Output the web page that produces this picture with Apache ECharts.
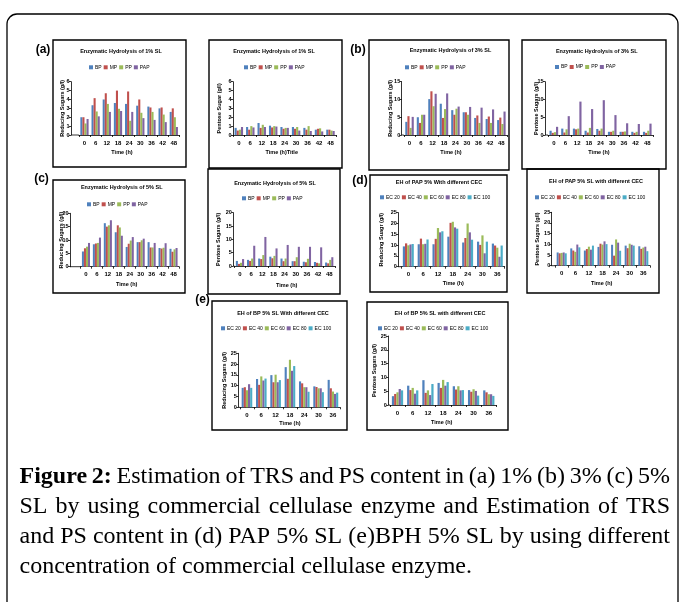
<!DOCTYPE html>
<html><head><meta charset="utf-8">
<script src="https://cdn.jsdelivr.net/npm/echarts@6/dist/echarts.min.js"></script>
<style>html,body{margin:0;padding:0;background:#fff}#c{width:680px;height:602px}</style>
</head><body><div id="c"></div><script>
// ---------- categories / series names ----------
const hoursA = ['0','6','12','18','24','30','36','42','48'];
const hoursD = ['0','6','12','18','24','30','36'];
const seriesSubstrate = ['BP','MP','PP','PAP'];
const seriesEnzyme = ['EC 20','EC 40','EC 60','EC 80','EC 100'];

// ---------- (a) 1% SL ----------
const a1_BP  = [2.0,3.35,4.0,3.6,3.5,3.3,3.2,3.0,2.6];
const a1_MP  = [2.0,4.15,4.7,5.0,4.9,4.0,3.1,3.1,3.0];
const a1_PP  = [1.3,2.65,3.5,2.95,1.6,2.5,2.6,2.3,2.0];
const a1_PAP = [1.8,2.1,2.6,2.7,2.6,1.9,1.7,1.45,0.9];
const a2_BP  = [0.8,0.9,1.35,1.05,0.9,0.9,0.8,0.6,0.6];
const a2_MP  = [0.5,0.6,0.8,0.85,0.7,0.7,0.6,0.7,0.6];
const a2_PP  = [0.6,1.0,1.15,1.0,0.8,0.9,1.0,0.75,0.5];
const a2_PAP = [0.9,0.85,0.9,0.95,0.8,0.5,0.45,0.4,0.45];
// ---------- (b) 3% SL ----------
const b1_BP  = [3.7,5.0,10.1,8.8,7.0,6.4,4.8,4.5,4.2];
const b1_MP  = [5.3,3.4,12.3,4.8,5.7,6.4,5.5,5.2,4.9];
const b1_PP  = [2.0,5.7,8.1,7.3,7.4,5.7,3.4,3.4,3.1];
const b1_PAP = [5.1,5.7,11.6,11.7,8.0,7.9,7.7,7.2,6.6];
const b2_BP  = [1.2,1.8,1.8,1.2,1.7,0.9,0.9,0.9,0.9];
const b2_MP  = [0.6,0.7,1.6,0.7,1.2,0.9,0.9,0.6,0.6];
const b2_PP  = [0.8,1.6,1.8,2.0,1.8,1.2,1.0,0.9,1.2];
const b2_PAP = [2.3,5.3,9.4,7.3,9.8,5.6,3.3,3.1,3.2];
// ---------- (c) 5% SL ----------
const c1_BP  = [5.7,8.4,16.3,12.9,7.4,9.2,9.2,7.0,6.7];
const c1_MP  = [6.9,8.7,15.0,15.5,8.6,9.2,7.2,6.8,5.6];
const c1_PP  = [7.5,8.9,15.5,14.7,9.8,9.9,7.2,7.1,6.5];
const c1_PAP = [8.9,10.9,17.4,11.6,11.1,10.5,8.9,8.8,7.0];
const c2_BP  = [1.9,2.3,2.8,3.5,2.8,1.8,1.6,1.5,1.3];
const c2_MP  = [0.8,1.9,2.6,2.9,1.8,1.8,1.4,1.2,1.0];
const c2_PP  = [1.2,2.8,4.1,3.8,2.8,3.3,2.7,1.0,2.3];
const c2_PAP = [2.6,7.6,10.9,6.6,7.9,7.2,7.2,7.0,3.3];
// ---------- (d) PAP 5% SL, different CEC ----------
const d1_EC20  = [9.4,10.4,10.4,13.9,11.2,11.6,10.7];
const d1_EC40  = [10.8,13.0,12.9,20.3,13.3,10.1,9.8];
const d1_EC60  = [9.9,10.4,17.9,20.8,20.0,14.5,8.8];
const d1_EC80  = [10.3,10.6,15.9,18.2,15.9,6.2,4.6];
const d1_EC100 = [10.5,12.6,16.4,17.6,12.5,11.6,9.8];
const d2_EC20  = [6.2,8.1,7.1,8.8,9.8,9.4,9.1];
const d2_EC40  = [5.8,7.1,7.8,10.3,4.7,8.2,7.9];
const d2_EC60  = [6.0,6.5,8.9,9.9,12.3,10.3,8.5];
const d2_EC80  = [6.2,9.9,7.5,11.4,10.8,9.8,8.9];
const d2_EC100 = [5.8,8.6,9.4,10.1,7.0,9.4,6.8];
// ---------- (e) BP 5% SL, different CEC ----------
const e1_EC20  = [9.0,13.1,14.9,18.6,12.0,9.7,12.7];
const e1_EC40  = [9.3,10.4,11.6,13.2,11.1,9.4,8.8];
const e1_EC60  = [7.9,14.3,15.1,22.0,9.3,8.8,7.3];
const e1_EC80  = [10.7,12.4,11.6,16.9,9.3,8.8,6.2];
const e1_EC100 = [9.0,13.3,12.6,19.1,7.2,7.0,6.8];
const e2_EC20  = [3.2,7.0,9.0,8.0,6.8,5.4,5.3];
const e2_EC40  = [4.0,5.4,4.4,6.2,5.6,4.8,4.6];
const e2_EC60  = [4.6,6.2,5.3,9.1,6.8,5.7,3.9];
const e2_EC80  = [5.8,4.1,3.6,7.0,5.3,5.1,3.9];
const e2_EC100 = [5.3,5.3,7.6,8.3,5.4,3.4,3.3];

// ---------- text ----------
const captionLines = [
  'Figure 2: Estimation of TRS and PS content in (a) 1% (b) 3% (c) 5%',
  'SL by using commercial cellulase enzyme and Estimation of TRS',
  'and PS content in (d) PAP 5% SL (e)BPH 5% SL by using different',
  'concentration of commercial cellulase enzyme.'
];

// ---------- layout ----------
const colorsSub = ['#4F81BD','#C0504D','#9BBB59','#8064A2'];
const colorsEC  = ['#4F81BD','#C0504D','#9BBB59','#8064A2','#4BACC6'];
const SANS = '"Liberation Sans", Arial, sans-serif';

const panels = [
 {cats:hoursA, names:seriesSubstrate, colors:colorsSub, data:[a1_BP,a1_MP,a1_PP,a1_PAP], max:6, interval:1,
  title:'Enzymatic Hydrolysis of 1% SL', yName:'Reducing Sugars (g/l)', xName:'Time (h)',
  grid:[78.9,81.7,100.5,53.3], axisX:71, yNameX:62.5, titleXY:[121,51], legendXY:[89,64.8], xNameXY:[122,152.3]},
 {cats:hoursA, names:seriesSubstrate, colors:colorsSub, data:[a2_BP,a2_MP,a2_PP,a2_PAP], max:6, interval:1,
  title:'Enzymatic Hydrolysis of 1% SL', yName:'Pentose Sugar (g/l)', xName:'Time (h)Title',
  grid:[233.1,81.7,103.1,53.3], axisX:233, yNameX:219, titleXY:[274,51], legendXY:[244,64.8], xNameXY:[281.7,152]},
 {cats:hoursA, names:seriesSubstrate, colors:colorsSub, data:[b1_BP,b1_MP,b1_PP,b1_PAP], max:15, interval:5,
  title:'Enzymatic Hydrolysis of 3% SL', yName:'Reducing Sugars (g/l)', xName:'Time (h)',
  grid:[403.8,81.7,103.3,53.3], axisX:401.7, yNameX:390.5, titleXY:[450.5,50.7], legendXY:[405,64.8], xNameXY:[451,152.7]},
 {cats:hoursA, names:seriesSubstrate, colors:colorsSub, data:[b2_BP,b2_MP,b2_PP,b2_PAP], max:15, interval:5,
  title:'Enzymatic Hydrolysis of 3% SL', yName:'Pentose Sugars (g/l)', xName:'Time (h)',
  grid:[548,81.7,105.1,53.3], axisX:545, yNameX:536.5, titleXY:[596.7,51], legendXY:[555,64.5], xNameXY:[599,152.7]},
 {cats:hoursA, names:seriesSubstrate, colors:colorsSub, data:[c1_BP,c1_MP,c1_PP,c1_PAP], max:20, interval:5,
  title:'Enzymatic Hydrolysis of 5% SL', yName:'Reducing Sugars (g/l)', xName:'Time (h)',
  grid:[80.5,213.3,98.5,53.4], axisX:70, yNameX:61.5, titleXY:[121.7,187.7], legendXY:[87,201.8], xNameXY:[126.7,284]},
 {cats:hoursA, names:seriesSubstrate, colors:colorsSub, data:[c2_BP,c2_MP,c2_PP,c2_PAP], max:20, interval:5,
  title:'Enzymatic Hydrolysis of 5% SL', yName:'Pentose Sugars (g/l)', xName:'Time (h)',
  grid:[234.4,212.7,100.4,53.3], axisX:233.3, yNameX:218, titleXY:[275,183.3], legendXY:[242,195.8], xNameXY:[286.7,285]},
 {cats:hoursD, names:seriesEnzyme, colors:colorsEC, data:[d1_EC20,d1_EC40,d1_EC60,d1_EC80,d1_EC100], max:25, interval:5,
  title:'EH of PAP 5% With different CEC', yName:'Reducing Suagr (g/l)', xName:'Time (h)',
  grid:[400.9,212.7,103.8,54], axisX:398.3, yNameX:381, titleXY:[439,182.5], legendXY:[380,194.8], xNameXY:[453.3,283.3]},
 {cats:hoursD, names:seriesEnzyme, colors:colorsEC, data:[d2_EC20,d2_EC40,d2_EC60,d2_EC80,d2_EC100], max:25, interval:5,
  title:'EH of PAP 5% SL with different CEC', yName:'Pentose Sugars (g/l)', xName:'Time (h)',
  grid:[554.9,212.3,95.2,53.4], axisX:551.7, yNameX:537, titleXY:[596,181.7], legendXY:[535,194.8], xNameXY:[601.7,283.3]},
 {cats:hoursD, names:seriesEnzyme, colors:colorsEC, data:[e1_EC20,e1_EC40,e1_EC60,e1_EC80,e1_EC100], max:25, interval:5,
  title:'EH of BP 5% SL With different CEC', yName:'Reducing Sugars (g/l)', xName:'Time (h)',
  grid:[239.8,353.3,100.3,54], axisX:238.3, yNameX:224.5, titleXY:[283,313.3], legendXY:[221,325.8], xNameXY:[290,423.3]},
 {cats:hoursD, names:seriesEnzyme, colors:colorsEC, data:[e2_EC20,e2_EC40,e2_EC60,e2_EC80,e2_EC100], max:25, interval:5,
  title:'EH of BP 5% SL with different CEC', yName:'Pentose Sugars (g/l)', xName:'Time (h)',
  grid:[389.9,336,106.5,69], axisX:388.3, yNameX:374.5, titleXY:[440,313.3], legendXY:[378,325.8], xNameXY:[441.7,422.3]}
];

const frames = [
  [53,40,133,127],[209,40,133,128],[369,40,140,130],[522,40,144,129],
  [53,180,132,113],[208,169,132,125],[370,175,137,117],[527,169,132,124],
  [212,301,135,129],[367,302,141,128]
];
const panelLabels = [['(a)',43,50],['(b)',358,50],['(c)',41.5,179],['(d)',360,180.7],['(e)',202.5,300]];

const grids=[], xAxes=[], yAxes=[], series=[], legends=[], graphics=[];

graphics.push({type:'rect', shape:{x:7,y:14,width:671,height:600,r:10}, style:{fill:'none',stroke:'#000',lineWidth:1.3}, z:1});
frames.forEach(f=>graphics.push({type:'rect', shape:{x:f[0],y:f[1],width:f[2],height:f[3]}, style:{fill:'none',stroke:'#000',lineWidth:1.4}, z:1}));
panelLabels.forEach(l=>graphics.push({type:'text', x:l[1], y:l[2], style:{text:l[0], font:'bold 12px '+SANS, fill:'#000', align:'center', verticalAlign:'middle'}}));

panels.forEach((p,i)=>{
  const [gl,gt,gw,gh] = p.grid;
  grids.push({left:gl, top:gt, width:gw, height:gh, containLabel:false});
  xAxes.push({type:'category', gridIndex:i, data:p.cats,
    axisLine:{show:true,lineStyle:{color:'#000',width:0.8}},
    axisTick:{show:true,length:2,lineStyle:{color:'#000',width:0.8}},
    axisLabel:{fontSize:6, fontWeight:'bold', fontFamily:SANS, color:'#000', margin:5, interval:0}});
  yAxes.push({type:'value', gridIndex:i, min:0, max:p.max, interval:p.interval, offset:gl-p.axisX,
    axisLine:{show:true,lineStyle:{color:'#000',width:0.8}},
    axisTick:{show:true,length:2,lineStyle:{color:'#000',width:0.8}},
    splitLine:{show:false},
    axisLabel:{fontSize:5.5, fontWeight:'bold', fontFamily:SANS, color:'#000', margin:1.5}});
  p.names.forEach((n,k)=>{
    series.push({type:'bar', name:n, xAxisIndex:i, yAxisIndex:i, data:p.data[k],
      barGap:'0%', barCategoryGap:'26%', itemStyle:{color:p.colors[k]}, silent:true, animation:false});
  });
  legends.push({data:p.names.map((n,k)=>({name:n, itemStyle:{color:p.colors[k]}})), left:p.legendXY[0], top:p.legendXY[1],
    orient:'horizontal', icon:'rect', itemWidth:4, itemHeight:4, itemGap:2, padding:0, selectedMode:false,
    textStyle:{fontSize:5, fontFamily:SANS, color:'#000', padding:[0,0,0,-3]}});
  // extend the x axis line back to the offset y axis
  if (gl - p.axisX > 0.5) {
    graphics.push({type:'line', shape:{x1:p.axisX, y1:gt+gh, x2:gl, y2:gt+gh}, style:{stroke:'#000', lineWidth:0.8}});
  }
  graphics.push({type:'text', x:p.titleXY[0], y:p.titleXY[1], style:{text:p.title, font:'bold 5.5px '+SANS, fill:'#000', align:'center', verticalAlign:'middle'}});
  graphics.push({type:'text', x:p.xNameXY[0], y:p.xNameXY[1], style:{text:p.xName, font:'bold 5.5px '+SANS, fill:'#000', align:'center', verticalAlign:'middle'}});
  graphics.push({type:'text', x:p.yNameX, y:gt+gh/2, rotation:Math.PI/2, style:{text:p.yName, font:'bold 5.5px '+SANS, fill:'#000', align:'center', verticalAlign:'middle'}});
});

// caption: justified lines
const SERIF = '"Liberation Serif", "Times New Roman", serif';
const ctx = document.createElement('canvas').getContext('2d');
function measure(t, bold, fs){ ctx.font = (bold?'bold ':'')+fs+'px '+SERIF; return ctx.measureText(t).width; }
const lastW = measure(captionLines[3], false, 20);
const capFs = Math.round(20*453/lastW*10)/10;
const capX0 = 19.5, capX1 = 670, capY0 = 477, capDy = 30;
captionLines.forEach((line,li)=>{
  const words = line.split(' ');
  const bolds = words.map((w,wi)=> li===0 && wi<2);
  const widths = words.map((w,wi)=>measure(w,bolds[wi],capFs));
  const total = widths.reduce((a,b)=>a+b,0);
  const justify = li < captionLines.length-1;
  const gap = justify ? (capX1-capX0-total)/(words.length-1) : measure(' ',false,capFs);
  let x = capX0;
  words.forEach((w,wi)=>{
    graphics.push({type:'text', x:x, y:capY0+li*capDy, style:{text:w, font:(bolds[wi]?'bold ':'')+capFs+'px '+SERIF, fill:'#000', align:'left', verticalAlign:'middle'}});
    x += widths[wi]+gap;
  });
});

const chart = echarts.init(document.getElementById('c'), null, {renderer:'canvas'});
chart.setOption({animation:false, backgroundColor:'#fff', grid:grids, xAxis:xAxes, yAxis:yAxes, series:series, legend:legends, graphic:graphics});
</script></body></html>
